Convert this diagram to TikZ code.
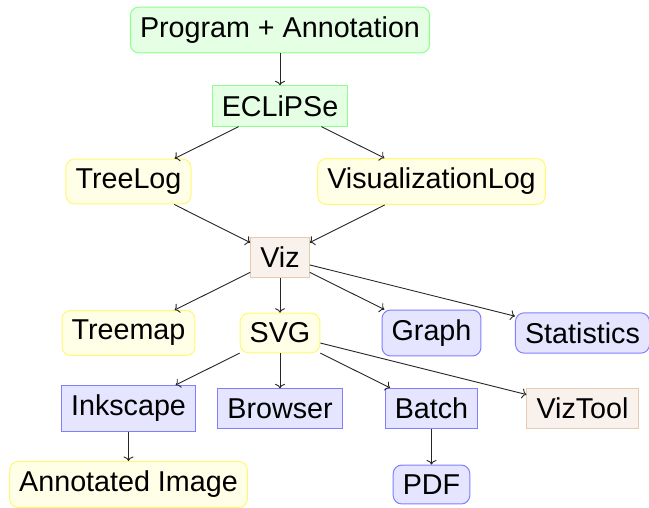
\documentclass[tikz,border=0pt]{standalone}
\usepackage{fontspec}
\setmainfont{Liberation Sans}
\usetikzlibrary{arrows.meta}
\begin{document}
\begin{tikzpicture}[x=1pt,y=-1pt,
  box/.style={draw, line width=1pt, inner sep=9.6pt, font=\fontsize{28.7}{34}\selectfont},
  rbox/.style={box, rounded corners=8.6pt},
  gr/.style={fill=green!10, draw=green!45},
  ye/.style={fill=yellow!10, draw=yellow!55},
  bl/.style={fill=blue!10, draw=blue!50},
  br/.style={fill=brown!10, draw=brown!40},
  conn/.style={draw=black!85, line width=0.9pt, -{To[length=4.5pt,width=10pt]}}]
\useasboundingbox (0,0) rectangle (649,507);
% columns: 128.5, 280, 431.5, 582.5 ; rows: 30, 106, 181.5, 257.5, 333, 408.5, 484.5
\node[rbox,gr] (prog) at (280,30) {Program + Annotation};
\node[box,gr] (ecl) at (280,106) {ECLiPSe};
\node[rbox,ye] (tree) at (128.5,181.5) {TreeLog};
\node[rbox,ye] (vlog) at (431.5,181.5) {VisualizationLog};
\node[box,br] (viz) at (280,257.5) {Viz};
\node[rbox,ye] (tmap) at (128.5,333) {Treemap};
\node[rbox,ye] (svg) at (280,333) {SVG};
\node[rbox,bl] (graph) at (431.5,333) {Graph};
\node[rbox,bl] (stat) at (582.5,333) {Statistics};
\node[box,bl] (ink) at (128.5,408.5) {Inkscape};
\node[box,bl] (brow) at (280,408.5) {Browser};
\node[box,bl] (batch) at (431.5,408.5) {Batch};
\node[box,br] (vtool) at (582.5,408.5) {VizTool};
\node[rbox,ye] (aimg) at (128.5,484.5) {Annotated Image};
\node[rbox,bl] (pdf) at (431.5,484.5) {PDF};
\draw[conn] (prog) -- (ecl);
\draw[conn] (ecl) -- (tree);
\draw[conn] (ecl) -- (vlog);
\draw[conn] (tree) -- (viz);
\draw[conn] (vlog) -- (viz);
\draw[conn] (viz) -- (tmap);
\draw[conn] (viz) -- (svg);
\draw[conn] (viz) -- (graph);
\draw[conn] (viz) -- (stat);
\draw[conn] (svg) -- (ink);
\draw[conn] (svg) -- (brow);
\draw[conn] (svg) -- (batch);
\draw[conn] (svg) -- (vtool);
\draw[conn] (ink) -- (aimg);
\draw[conn] (batch) -- (pdf);
\end{tikzpicture}
\end{document}
